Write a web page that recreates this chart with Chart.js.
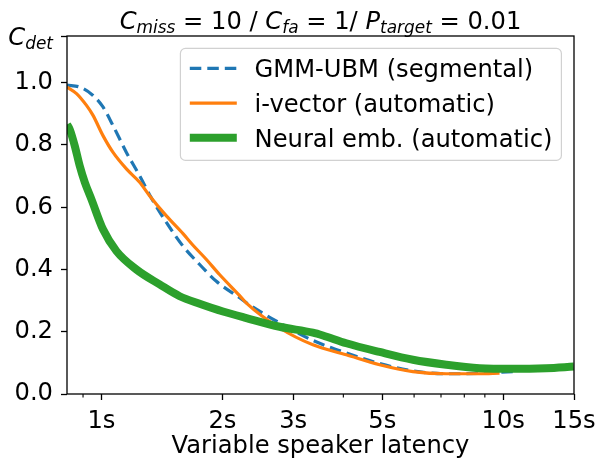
<!DOCTYPE html>
<html><head><meta charset="utf-8">
<script src="https://cdn.jsdelivr.net/npm/chart.js@4/dist/chart.umd.min.js"></script>
<style>html,body{margin:0;padding:0;background:#fff;}</style>
</head><body>
<canvas id="c" width="598" height="462"></canvas>
<script>
// ---- data ----
const seriesNames = ['GMM-UBM (segmental)', 'i-vector (automatic)', 'Neural emb. (automatic)'];
const gmmX = [0.821, 0.883, 0.953, 1.009, 1.069, 1.154, 1.245, 1.331, 1.451, 1.596, 1.756, 1.932, 2.208, 2.295, 2.777, 3.36, 4.069, 4.924, 5.959, 7.215, 8.73, 10.56];
const gmmY = [0.992, 0.986, 0.959, 0.922, 0.862, 0.776, 0.701, 0.630, 0.551, 0.475, 0.416, 0.362, 0.309, 0.293, 0.228, 0.172, 0.132, 0.098, 0.074, 0.065, 0.066, 0.072];
const ivX = [0.821, 0.867, 0.918, 0.953, 1.009, 1.069, 1.154, 1.245, 1.319, 1.451, 1.596, 1.69, 1.825, 1.97, 2.208, 2.295, 2.777, 3.36, 4.069, 4.924, 5.959, 7.215, 8.73, 9.79];
const ivY = [0.986, 0.965, 0.927, 0.895, 0.830, 0.776, 0.723, 0.680, 0.636, 0.572, 0.515, 0.478, 0.432, 0.383, 0.316, 0.292, 0.212, 0.158, 0.126, 0.094, 0.072, 0.065, 0.065, 0.067];
const neX = [0.821, 0.834, 0.858, 0.883, 0.909, 0.944, 1.009, 1.090, 1.222, 1.396, 1.566, 1.756, 2.007, 2.295, 2.777, 3.36, 3.558, 4.069, 4.924, 5.959, 7.215, 8.73, 10.56, 12.79, 14.98];
const neY = [0.866, 0.850, 0.798, 0.733, 0.680, 0.626, 0.529, 0.459, 0.400, 0.352, 0.314, 0.290, 0.265, 0.244, 0.216, 0.197, 0.188, 0.163, 0.135, 0.110, 0.094, 0.083, 0.081, 0.083, 0.088];
const xTickValues = [1, 2, 3, 5, 10, 15];
const xTickLabels = ['1s', '2s', '3s', '5s', '10s', '15s'];
const xMinorTicks = [0.9, 4, 6, 7, 8, 9];
const yTickValues = [0, 0.2, 0.4, 0.6, 0.8, 1.0, 1.15];
const yTickLabels = ['0.0', '0.2', '0.4', '0.6', '0.8', '1.0', ''];
const xTitle = 'Variable speaker latency';
const titleParts = [
  {t: 'C', it: true}, {t: 'miss', it: true, sub: true}, {t: ' = 10 / '},
  {t: 'C', it: true}, {t: 'fa', it: true, sub: true}, {t: ' = 1/ '},
  {t: 'P', it: true}, {t: 'target', it: true, sub: true}, {t: ' = 0.01'}
];
const yTopLabelParts = [{t: 'C', it: true}, {t: 'det', it: true, sub: true}];

// ---- styling ----
const FAM = '"DejaVu Sans", "Liberation Sans", sans-serif';
const FS = 24.2;
const SUB_SCALE = 0.7;
const SUB_DY = 4;
Chart.defaults.font.family = FAM;
Chart.defaults.font.size = FS;
Chart.defaults.color = '#000';

const pts = (xs, ys) => xs.map((x, i) => ({x: x, y: ys[i]}));
const fontOf = p => (p.it ? 'italic ' : '') + (p.sub ? FS * SUB_SCALE : FS) + 'px ' + FAM;

function drawMath(ctx, parts, x, y, align) {
  const widths = parts.map(p => { ctx.font = fontOf(p); return ctx.measureText(p.t).width; });
  const total = widths.reduce((a, b) => a + b, 0);
  let cx = align === 'center' ? x - total / 2 : (align === 'right' ? x - total : x);
  ctx.textAlign = 'left';
  ctx.textBaseline = 'alphabetic';
  parts.forEach((p, i) => {
    ctx.font = fontOf(p);
    ctx.fillText(p.t, cx, y + (p.sub ? SUB_DY : 0));
    cx += widths[i];
  });
}

const decor = {
  id: 'decor',
  afterDatasetsDraw(chart) {
    const {ctx, chartArea: a, scales} = chart;
    ctx.save();
    ctx.strokeStyle = '#000';
    // minor x ticks
    ctx.lineWidth = 1.1;
    xMinorTicks.forEach(v => {
      const px = scales.x.getPixelForValue(v);
      ctx.beginPath(); ctx.moveTo(px, a.bottom); ctx.lineTo(px, a.bottom + 3.5); ctx.stroke();
    });
    // spines
    ctx.lineWidth = 1.3;
    ctx.strokeRect(a.left, a.top, a.right - a.left, a.bottom - a.top);

    // legend (inside axes, upper right)
    const ds = chart.data.datasets;
    const pad = 9.4, handle = 47, gap = 18.8, rowH = 34.7;
    const bw = 381, bh = 112;
    const bx = a.right - 12.6 - bw, by = a.top + 12.4;
    ctx.beginPath();
    ctx.roundRect(bx, by, bw, bh, 5);
    ctx.fillStyle = 'rgba(255,255,255,0.8)';
    ctx.fill();
    ctx.lineWidth = 1.2;
    ctx.strokeStyle = 'rgba(204,204,204,0.9)';
    ctx.stroke();
    ds.forEach((d, i) => {
      const cy = by + 20 + i * rowH;
      ctx.save();
      ctx.strokeStyle = d.borderColor;
      ctx.lineWidth = d.borderWidth;
      ctx.setLineDash(d.borderDash || []);
      ctx.beginPath(); ctx.moveTo(bx + pad, cy); ctx.lineTo(bx + pad + handle, cy); ctx.stroke();
      ctx.restore();
      ctx.fillStyle = '#000';
      ctx.font = FS + 'px ' + FAM;
      ctx.textAlign = 'left'; ctx.textBaseline = 'alphabetic';
      ctx.fillText(d.label, bx + pad + handle + gap - 1, cy + 8.7);
    });
    ctx.restore();
  },
  afterDraw(chart) {
    const {ctx, chartArea: a, scales} = chart;
    ctx.save();
    ctx.fillStyle = '#000';
    drawMath(ctx, titleParts, (a.left + a.right) / 2, a.top - 7.2, 'center');
    const ty = scales.y.getPixelForValue(yTickValues[yTickValues.length - 1]);
    drawMath(ctx, yTopLabelParts, a.left - 6 - 8, ty + 9.3, 'right');
    ctx.restore();
  }
};

new Chart(document.getElementById('c'), {
  type: 'line',
  data: {
    datasets: [
      {label: seriesNames[0], data: pts(gmmX, gmmY), borderColor: '#1f77b4', borderWidth: 3.2, borderDash: [11.5, 6], order: 3},
      {label: seriesNames[1], data: pts(ivX, ivY), borderColor: '#ff7f0e', borderWidth: 3.2, order: 2},
      {label: seriesNames[2], data: pts(neX, neY), borderColor: '#2ca02c', borderWidth: 8, order: 1}
    ]
  },
  options: {
    responsive: false,
    animation: false,
    layout: {padding: {top: 36, right: 24, left: 0, bottom: 0}},
    elements: {
      point: {radius: 0, hoverRadius: 0},
      line: {cubicInterpolationMode: 'monotone', fill: false}
    },
    plugins: {legend: {display: false}, tooltip: {enabled: false}, title: {display: false}},
    scales: {
      x: {
        type: 'logarithmic', min: 0.821, max: 15, bounds: 'data',
        afterBuildTicks: s => { s.ticks = xTickValues.map(v => ({value: v})); },
        ticks: {callback: (v, i) => xTickLabels[i], autoSkip: false, maxRotation: 0, minRotation: 0, padding: 7.5, color: '#000'},
        grid: {display: true, drawOnChartArea: false, drawTicks: true, tickLength: 6, tickWidth: 1.3, tickColor: '#000'},
        border: {display: false},
        title: {display: true, text: xTitle, color: '#000', padding: {top: 0, bottom: 1}},
        afterFit: s => { s.height = 68; s.paddingRight = 0; s.paddingLeft = 0; }
      },
      y: {
        type: 'linear', min: 0, max: 1.15, bounds: 'data',
        afterBuildTicks: s => { s.ticks = yTickValues.map(v => ({value: v})); },
        ticks: {callback: (v, i) => yTickLabels[i], autoSkip: false, padding: 8, color: '#000'},
        grid: {display: true, drawOnChartArea: false, drawTicks: true, tickLength: 6, tickWidth: 1.3, tickColor: '#000'},
        border: {display: false},
        afterFit: s => { s.width = 67; s.paddingTop = 0; s.paddingBottom = 0; }
      }
    }
  },
  plugins: [decor]
});
</script>
</body></html>
